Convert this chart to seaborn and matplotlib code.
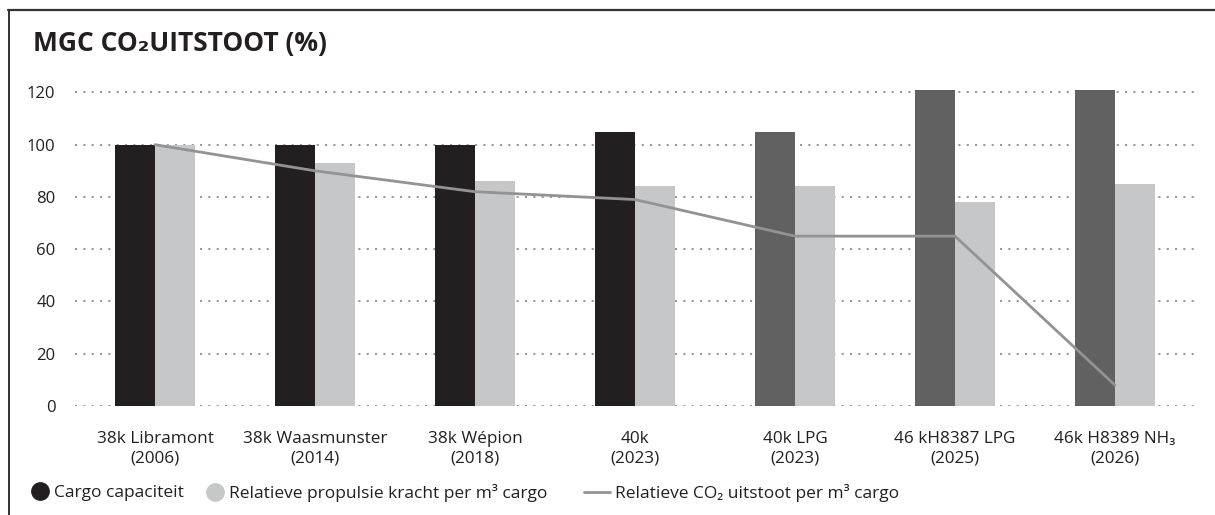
import seaborn as sns
import pandas as pd
import numpy as np
import matplotlib.pyplot as plt
from matplotlib.lines import Line2D


# Chart data
ships = [
    "38k Libramont\n(2006)",
    "38k Waasmunster\n(2014)",
    "38k Wépion\n(2018)",
    "40k\n(2023)",
    "40k LPG\n(2023)",
    "46 kH8387 LPG\n(2025)",
    "46k H8389 NH\u2083\n(2026)",
]
cargo = [100, 100, 100, 105, 105, 121, 121]
propulsion = [100, 93, 86, 84, 84, 78, 85]
co2 = [100, 90, 82, 79, 65, 65, 8]

black = "#231f20"
dark_grey = "#616161"
light_grey = "#c6c7c8"
line_grey = "#939393"

sns.set_theme(style="white")
plt.rcParams["font.family"] = ["Open Sans", "DejaVu Sans"]

df = pd.DataFrame({
    "ship": ships * 2,
    "value": cargo + propulsion,
    "series": ["Cargo capaciteit"] * 7 + ["Relatieve propulsie kracht"] * 7,
})

fig = plt.figure(figsize=(12.15, 5.15), dpi=100)
ax = fig.add_axes([0.0617, 0.2117, 0.9218, 0.619])

sns.barplot(
    data=df, x="ship", y="value", hue="series", ax=ax,
    palette=[black, light_grey], width=0.5, saturation=1,
    legend=False, zorder=2,
)
# the newer ships get a lighter cargo bar
for i, patch in enumerate(ax.patches[:7]):
    patch.set_edgecolor("none")
    if i >= 4:
        patch.set_facecolor(dark_grey)
for patch in ax.patches[7:]:
    patch.set_edgecolor("none")

sns.lineplot(x=np.arange(len(ships)), y=co2, ax=ax, color=line_grey,
             linewidth=2, zorder=3)

ax.set_xlim(-0.5, 6.5)
ax.set_ylim(0, 122)
ax.set_yticks([0, 20, 40, 60, 80, 100, 120])
ax.yaxis.grid(True, linestyle=(0, (1, 3)), linewidth=1.5, color="#9a9a9a")
ax.set_axisbelow(True)
ax.tick_params(axis="y", length=0, pad=14, labelsize=12, labelcolor="#231f20")
ax.tick_params(axis="x", length=0, pad=18, labelsize=12.3, labelcolor="#231f20")
for lbl in ax.get_xticklabels():
    lbl.set_linespacing(1.3)
ax.set_xlabel("")
ax.set_ylabel("")
sns.despine(ax=ax, left=True, bottom=True)

fig.text(0.027, 0.915, "MGC CO\u2082UITSTOOT (%)", fontsize=19,
         fontweight="bold", color="#231f20", va="center")

# frame lines at top and left
fig.add_artist(Line2D([0.0066, 1.0], [0.981, 0.981], transform=fig.transFigure,
                      color="#333333", linewidth=1.6))
fig.add_artist(Line2D([0.0074, 0.0074], [0.0, 0.981], transform=fig.transFigure,
                      color="#333333", linewidth=1.4))

# legend items placed one by one along the bottom
legend_items = [
    (Line2D([], [], marker="o", linestyle="", markersize=12.5, color=black),
     "Cargo capaciteit", 0.0255, 1.0),
    (Line2D([], [], marker="o", linestyle="", markersize=12.5, color=light_grey),
     "Relatieve propulsie kracht per m\u00b3 cargo", 0.1696, 1.0),
    (Line2D([], [], color=line_grey, linewidth=2),
     "Relatieve CO\u2082 uitstoot per m\u00b3 cargo", 0.4807, 1.5),
]
for handle, label, x0, hl in legend_items:
    fig.legend([handle], [label], loc="center left", bbox_to_anchor=(x0, 0.043),
               frameon=False, fontsize=12.5, handlelength=hl,
               handletextpad=0.3, borderpad=0, borderaxespad=0,
               labelcolor="#231f20")

fig.savefig("out.png", dpi=100)
